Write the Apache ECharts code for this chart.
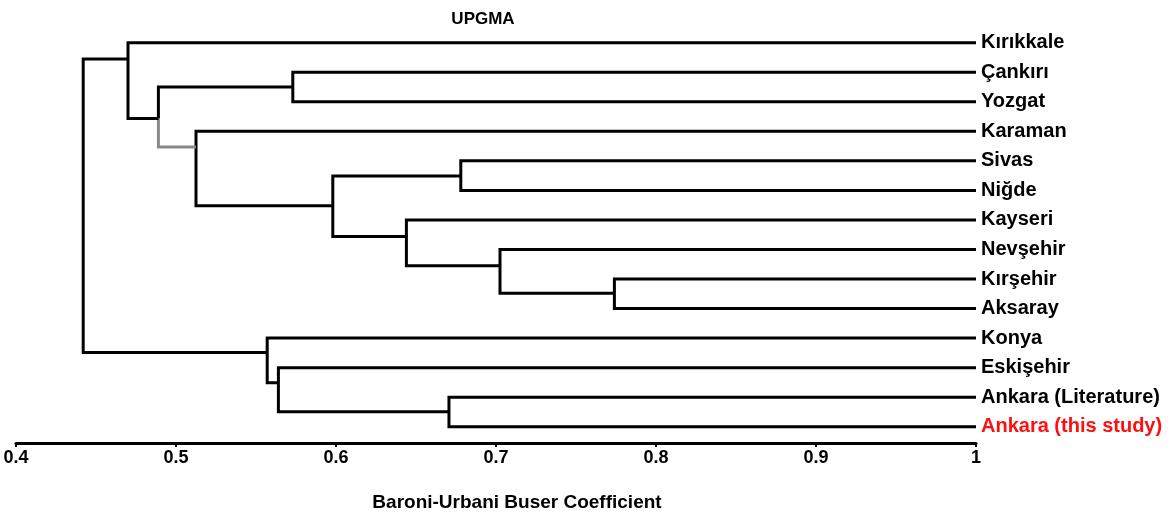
<!DOCTYPE html>
<html>
<head>
<meta charset="utf-8">
<script src="https://cdn.jsdelivr.net/npm/echarts@6/dist/echarts.min.js"></script>
<style>
  html, body { margin: 0; padding: 0; background: #fff; }
  #chart { width: 1172px; height: 515px; }
</style>
</head>
<body>
<div id="chart"></div>
<script>
// Leaves, top to bottom (row index = position on the vertical axis)
const leaves = ['Kırıkkale', 'Çankırı', 'Yozgat', 'Karaman', 'Sivas', 'Niğde', 'Kayseri',
  'Nevşehir', 'Kırşehir', 'Aksaray', 'Konya', 'Eskişehir', 'Ankara (Literature)', 'Ankara (this study)'];

// Merges (ids < 14 are leaves, id 14+k is merge k)
const mergeLeft   = [1, 8, 4, 7, 6, 16, 3, 14, 0, 12, 11, 10, 22];
const mergeRight  = [2, 9, 5, 15, 17, 18, 19, 20, 21, 13, 23, 24, 25];
const mergeHeight = [0.573, 0.774, 0.678, 0.7025, 0.644, 0.598, 0.5125, 0.489, 0.470, 0.6706, 0.564, 0.557, 0.442];
// row where the parent's branch joins each merge (as drawn in the figure)
const mergeJoinRow = [1.5, 8.48, 4.51, 7.55, 6.56, 5.52, 3.53, 2.57, 0.55, 12.49, 11.51, 10.49, null];

const xTicks = [0.4, 0.5, 0.6, 0.7, 0.8, 0.9, 1];

const highlightLeaf = 'Ankara (this study)';
const grayBranch = { merge: 7, side: 'right' };

const FONT = "'Liberation Sans', Arial, Helvetica, sans-serif";
const N = leaves.length;
const xMax = xTicks[xTicks.length - 1];
function rowOf(id) { return id < N ? id : mergeJoinRow[id - N]; }
function heightOf(id) { return id < N ? xMax : mergeHeight[id - N]; }

const segs = [];
mergeLeft.forEach((a, k) => {
  const b = mergeRight[k], h = mergeHeight[k];
  const ya = rowOf(a), yb = rowOf(b);
  if (grayBranch.merge === k) {
    const join = mergeJoinRow[k] == null ? (ya + yb) / 2 : mergeJoinRow[k];
    const grayLeft = grayBranch.side === 'left';
    segs.push({ coords: [[h, join], [h, ya], [heightOf(a), ya]],
      lineStyle: { color: grayLeft ? '#8a8a8a' : '#000' } });
    segs.push({ coords: [[h, join], [h, yb], [heightOf(b), yb]],
      lineStyle: { color: grayLeft ? '#000' : '#8a8a8a' } });
  } else {
    segs.push({ coords: [[heightOf(a), ya], [h, ya], [h, yb], [heightOf(b), yb]],
      lineStyle: { color: '#000' } });
  }
});

const leafPoints = leaves.map((name, i) => ({
  name: name,
  value: [xMax, i],
  label: { color: name === highlightLeaf ? '#ff1010' : '#000' }
}));

const chart = echarts.init(document.getElementById('chart'), null, { renderer: 'canvas' });
chart.setOption({
  animation: false,
  backgroundColor: '#fff',
  grid: { left: 16, right: 196, top: 13.14, bottom: 72, containLabel: false },
  xAxis: {
    type: 'value', min: 0.4, max: 1, interval: 0.1, position: 'bottom',
    axisLine: { show: true, onZero: false, lineStyle: { color: '#000', width: 3 } },
    axisTick: { show: true, length: 4, inside: false, lineStyle: { color: '#000', width: 2 } },
    splitLine: { show: false },
    axisLabel: {
      showMinLabel: true, showMaxLabel: true,
      color: '#000', fontFamily: FONT, fontWeight: 'bold', fontSize: 18, margin: 6,
      formatter: (v) => { const t = xTicks.find(x => Math.abs(x - v) < 1e-9); return t == null ? '' : String(t); }
    }
  },
  yAxis: { type: 'value', inverse: true, min: -1, max: 13.55, show: false },
  graphic: [
    { type: 'text', x: 483, y: 19, style: { text: 'UPGMA', fill: '#000', font: "bold 17px 'Liberation Sans', Arial, sans-serif", textAlign: 'center', textVerticalAlign: 'middle' } },
    { type: 'text', x: 517, y: 503, style: { text: 'Baroni-Urbani Buser Coefficient', fill: '#000', font: "bold 19px 'Liberation Sans', Arial, sans-serif", textAlign: 'center', textVerticalAlign: 'middle' } }
  ],
  series: [
    {
      type: 'lines', coordinateSystem: 'cartesian2d', polyline: true, clip: false,
      silent: true,
      lineStyle: { width: 3, opacity: 1, curveness: 0, join: 'miter', cap: 'butt' },
      data: segs
    },
    {
      type: 'scatter', symbol: 'circle', symbolSize: 0, clip: false, silent: true,
      itemStyle: { color: '#000', opacity: 1 },
      label: { show: true, position: 'right', distance: 5, formatter: '{b}', opacity: 1,
        fontFamily: FONT, fontWeight: 'bold', fontSize: 20 },
      data: leafPoints
    }
  ]
});
</script>
</body>
</html>
